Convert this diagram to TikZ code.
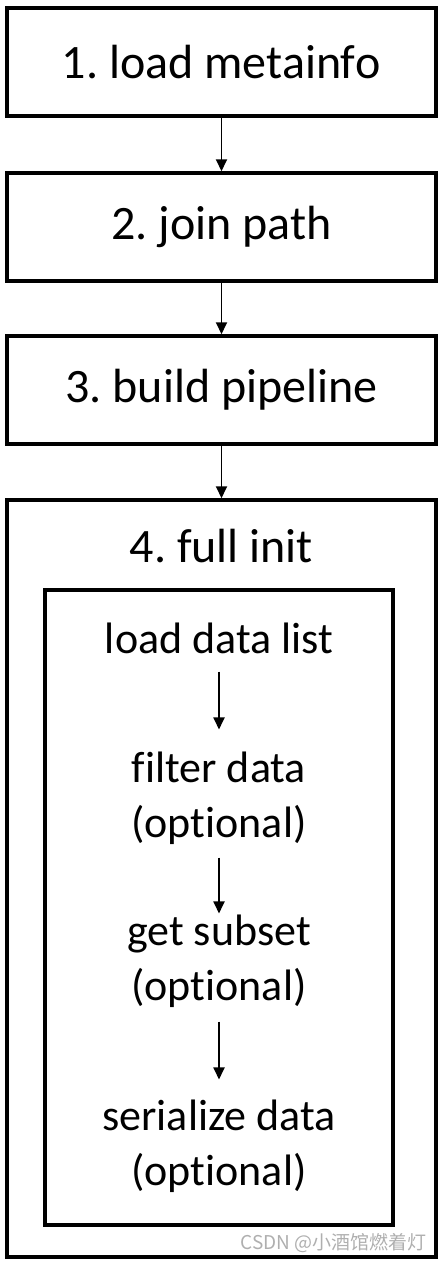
\documentclass[tikz,border=0pt]{standalone}
\usepackage{fontspec}
\setmainfont[RawFeature={-liga;-clig;-rlig;-dlig;-calt}]{Carlito}
\newfontfamily\cjk{Noto Sans CJK SC}
\usetikzlibrary{arrows.meta}
\definecolor{mark}{RGB}{175, 175, 175}
\frenchspacing
\newcommand{\nolig}{\kern0pt}

\tikzset{
	stage/.style={draw, line width=3.5pt, minimum width=429pt, minimum height=108pt, font=\fontsize{48}{58}\selectfont},
	frame/.style={draw, line width=3.5pt},
	sub/.style={align=center, inner sep=0pt, font=\fontsize{44}{55}\selectfont},
	flow/.style={-{Triangle[length=12pt,width=11pt]}, line width=1.8pt}
}

\begin{document}
\begin{tikzpicture}[x=1pt, y=-1pt]
	\useasboundingbox (0,0) rectangle (444,1262);
	\node[stage] (meta) at (221.5,62) {1. load metainf\nolig o};
	\node[stage] (join) at (221.5,227) {2. join path};
	\node[stage] (pipe) at (221.5,390) {3. build pipeline};
	\node[frame, minimum width=429pt, minimum height=757pt] (init) at (221.5,878.5) {};
	\node[sub, font=\fontsize{48}{58}\selectfont] (title) at (221.5,546) {4. f\nolig ull init};
	\node[frame, minimum width=348pt, minimum height=635pt] (steps) at (219,907.5) {};
	\node[sub] (list) at (219,638) {load data list};
	\node[sub] (filter) at (219,798) {f\nolig ilter data\\(opt\nolig ional)};
	\node[sub] (subset) at (219,961) {get subset\\(opt\nolig ional)};
	\node[sub] (serial) at (219,1146) {serialize data\\(opt\nolig ional)};
	\node[font=\cjk\fontsize{19}{22}\selectfont, text=mark, anchor=east] (wm) at (430,1243) {CSDN @小酒馆燃着灯};
	
	% stages
	\draw[flow] (meta) -- (join);
	\draw[flow] (join) -- (pipe);
	\draw[flow] (pipe) -- (init);
	% full init
	\draw[flow, shorten <=18pt, shorten >=22pt] (list) -- (filter);
	\draw[flow, shorten <=13pt, shorten >=1pt] (filter) -- (subset);
	\draw[flow, shorten <=14pt, shorten >=20pt] (subset) -- (serial);
\end{tikzpicture}
\end{document}
